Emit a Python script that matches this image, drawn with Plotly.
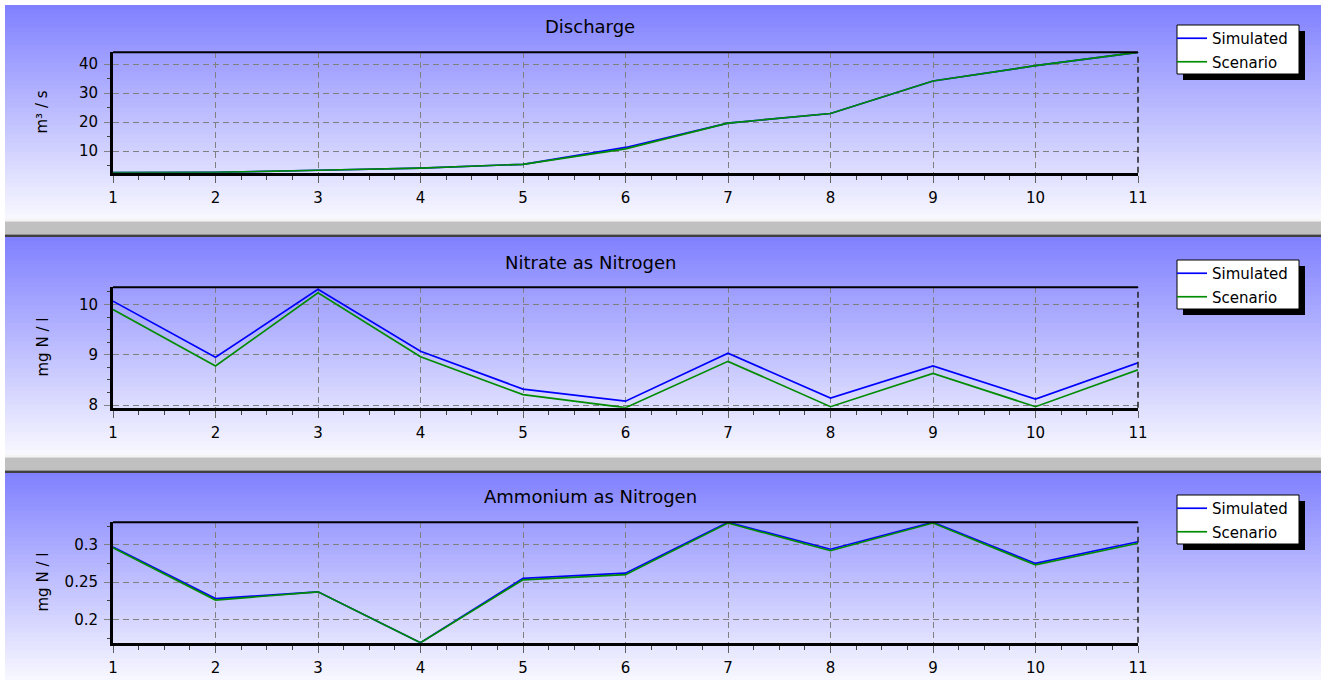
import plotly.graph_objects as go

# ---------------- data ----------------
x_vals = list(range(1, 12))
x_tick_labels = [str(i) for i in x_vals]

panel_titles = ["Discharge", "Nitrate as Nitrogen", "Ammonium as Nitrogen"]
y_titles = ["m³ / s", "mg N / l", "mg N / l"]
series_names = ["Simulated", "Scenario"]

discharge_simulated = [2.6, 2.7, 3.45, 4.2, 5.5, 11.3, 19.7, 23.0, 34.2, 39.5, 44.1]
discharge_scenario = [2.6, 2.7, 3.45, 4.2, 5.5, 10.8, 19.7, 23.0, 34.2, 39.5, 44.1]

nitrate_simulated = [10.065, 8.95, 10.30, 9.07, 8.32, 8.08, 9.03, 8.14, 8.78, 8.12, 8.84]
nitrate_scenario = [9.90, 8.78, 10.23, 8.96, 8.21, 7.95, 8.87, 7.97, 8.63, 7.97, 8.70]

ammonium_simulated = [0.297, 0.228, 0.237, 0.169, 0.255, 0.262, 0.330, 0.294, 0.330, 0.275, 0.304]
ammonium_scenario = [0.296, 0.226, 0.237, 0.169, 0.253, 0.260, 0.329, 0.292, 0.329, 0.273, 0.302]

y_tick_values = [[10, 20, 30, 40], [8, 9, 10], [0.2, 0.25, 0.3]]
y_tick_labels = [["10", "20", "30", "40"], ["8", "9", "10"], ["0.2", "0.25", "0.3"]]
y_ranges = [[2.6, 44.1], [7.95, 10.34], [0.169, 0.330]]
y_minor_dtick = [5, 0.25, 0.025]

sim_series = [discharge_simulated, nitrate_simulated, ammonium_simulated]
scen_series = [discharge_scenario, nitrate_scenario, ammonium_scenario]

# ---------------- layout geometry (pixels) ----------------
W, H = 1321, 680
FONT = "DejaVu Sans"


def px(x):
    return x / W


def py(y):
    return 1 - y / H


PLOT_L, PLOT_R = 113, 1138
PANEL_OFF = 235
PLOT_TOP0, PLOT_BOT0 = 52.3, 172.7
panel_bg = [(5, 218.5), (237, 454.5), (472, 680)]
separators = [218.5, 454.5]

fig = go.Figure()
shapes = []
annotations = []

# gradient backgrounds
N_BANDS = 48
c_top = (128, 128, 255)
c_bot = (248, 248, 255)
for (y0, y1) in panel_bg:
    h = (y1 - y0) / N_BANDS
    for i in range(N_BANDS):
        t = (i + 0.5) / N_BANDS
        c = tuple(int(round(c_top[k] + (c_bot[k] - c_top[k]) * t)) for k in range(3))
        yb = min(y1, y0 + (i + 1) * h + 1.2)
        shapes.append(dict(type="rect", xref="paper", yref="paper", layer="below",
                           x0=px(5), x1=1, y0=py(yb), y1=py(y0 + i * h),
                           fillcolor="rgb(%d,%d,%d)" % c, line=dict(width=0)))

# separator bars
for s in separators:
    shapes.append(dict(type="rect", xref="paper", yref="paper", layer="below",
                       x0=px(5), x1=1, y0=py(s + 3), y1=py(s), fillcolor="#F4F4F4", line=dict(width=0)))
    shapes.append(dict(type="rect", xref="paper", yref="paper", layer="below",
                       x0=px(5), x1=1, y0=py(s + 16), y1=py(s + 3), fillcolor="#C0C0C0", line=dict(width=0)))
    shapes.append(dict(type="rect", xref="paper", yref="paper", layer="below",
                       x0=px(5), x1=1, y0=py(s + 18.5), y1=py(s + 16), fillcolor="#404040", line=dict(width=0)))

layout_axes = {}
for p in range(3):
    top = PLOT_TOP0 + p * PANEL_OFF
    bot = PLOT_BOT0 + p * PANEL_OFF
    sfx = "" if p == 0 else str(p + 1)
    xa = "xaxis" + sfx
    ya = "yaxis" + sfx
    leg = "legend" + sfx

    layout_axes[xa] = dict(
        domain=[px(PLOT_L), px(PLOT_R)], anchor="y" + sfx, range=[1, 11],
        tickmode="array", tickvals=x_vals, ticktext=x_tick_labels,
        showline=True, linecolor="black", linewidth=3, mirror=False,
        ticks="outside", ticklen=7, tickcolor="#606060", tickwidth=1,
        ticklabelstandoff=2, automargin=False,
        showgrid=True, gridcolor="#808080", gridwidth=1.3, griddash="6px,4px",
        zeroline=False, fixedrange=True,
        tickfont=dict(family=FONT, size=15, color="black"),
        minor=dict(dtick=0.25, ticks="outside", ticklen=4, tickcolor="#404040", showgrid=False),
    )
    layout_axes[ya] = dict(
        domain=[py(bot), py(top)], anchor="x" + sfx, range=y_ranges[p],
        tickmode="array", tickvals=y_tick_values[p], ticktext=y_tick_labels[p],
        showline=True, linecolor="black", linewidth=3, mirror=False,
        ticks="outside", ticklen=6, tickcolor="#808080", tickwidth=1.3,
        ticklabelstandoff=3, automargin=False,
        showgrid=True, gridcolor="#808080", gridwidth=1.3, griddash="6px,4px",
        zeroline=False, fixedrange=True,
        tickfont=dict(family=FONT, size=15, color="black"),
        minor=dict(dtick=y_minor_dtick[p], ticks="outside", ticklen=3, tickcolor="#404040", showgrid=False),
    )

    fig.add_trace(go.Scatter(x=x_vals, y=sim_series[p], mode="lines", name=series_names[0],
                             line=dict(color="#0000FF", width=1.7), xaxis="x" + sfx, yaxis="y" + sfx,
                             legend=leg, legendgroup="a%d" % p))
    fig.add_trace(go.Scatter(x=x_vals, y=scen_series[p], mode="lines", name=series_names[1],
                             line=dict(color="#008C00", width=1.7), xaxis="x" + sfx, yaxis="y" + sfx,
                             legend=leg, legendgroup="b%d" % p))

    # top frame line and right dashed edge
    shapes.append(dict(type="line", xref="paper", yref="paper", layer="above",
                       x0=px(PLOT_L), x1=px(PLOT_R), y0=py(top), y1=py(top),
                       line=dict(color="black", width=2)))
    shapes.append(dict(type="line", xref="paper", yref="paper", layer="above",
                       x0=px(PLOT_R), x1=px(PLOT_R), y0=py(bot), y1=py(top),
                       line=dict(color="#202020", width=1.5, dash="6px,4px")))

    # legend box with shadow
    lt = 25 + p * PANEL_OFF
    shapes.append(dict(type="rect", xref="paper", yref="paper", layer="above",
                       x0=px(1183), x1=px(1305), y0=py(lt + 55), y1=py(lt + 6),
                       fillcolor="black", line=dict(width=0)))
    shapes.append(dict(type="rect", xref="paper", yref="paper", layer="above",
                       x0=px(1177), x1=px(1299), y0=py(lt + 49), y1=py(lt),
                       fillcolor="white", line=dict(color="black", width=1)))

    layout_axes[leg] = dict(
        x=px(1172), xanchor="left", y=py(lt - 3), yanchor="top",
        bgcolor="rgba(0,0,0,0)", borderwidth=0, tracegroupgap=1,
        font=dict(family=FONT, size=15, color="black"),
    )

    annotations.append(dict(text=panel_titles[p], xref="paper", yref="paper",
                            x=px(590), y=py(27 + p * PANEL_OFF), xanchor="center", yanchor="middle",
                            showarrow=False, font=dict(family=FONT, size=18, color="black")))
    annotations.append(dict(text=y_titles[p], xref="paper", yref="paper",
                            x=px(42), y=py((top + bot) / 2), xanchor="center", yanchor="middle",
                            textangle=-90, showarrow=False,
                            font=dict(family=FONT, size=15, color="black")))

fig.update_layout(
    width=W, height=H, autosize=False,
    margin=dict(l=0, r=0, t=0, b=0, pad=0, autoexpand=False),
    paper_bgcolor="white", plot_bgcolor="rgba(0,0,0,0)",
    showlegend=True, shapes=shapes, annotations=annotations,
    hovermode=False,
    **layout_axes,
)

fig.write_html("out.html", config={"displayModeBar": False, "staticPlot": False},
               post_script="document.body.style.margin='0';document.body.style.padding='0';")
